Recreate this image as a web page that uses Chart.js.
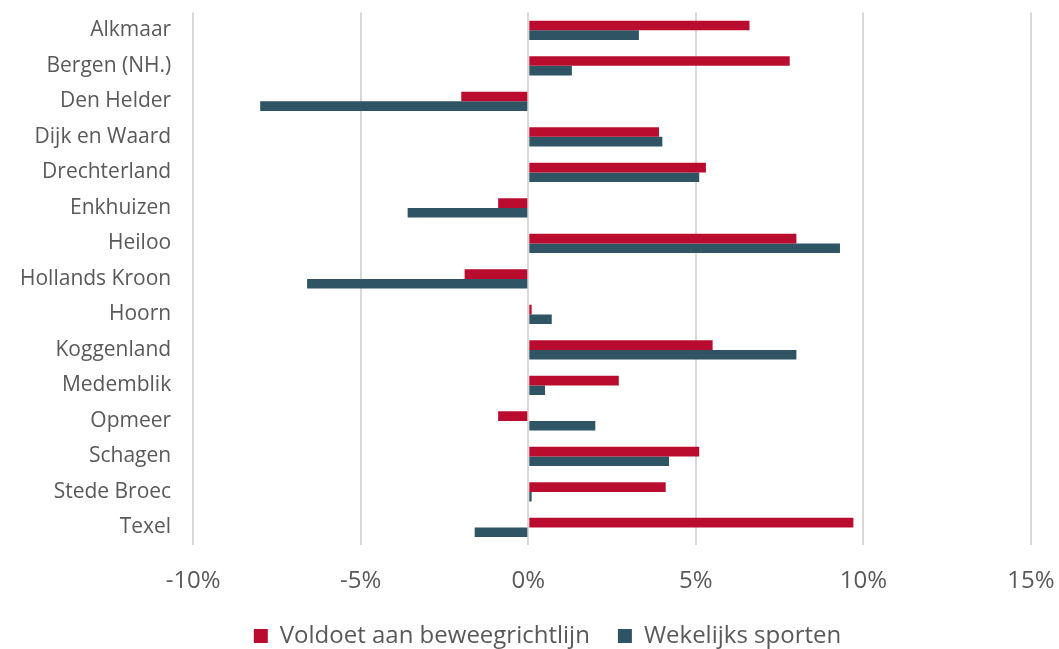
<!DOCTYPE html>
<html>
<head>
<meta charset="utf-8">
<script src="https://cdn.jsdelivr.net/npm/chart.js@4"></script>
<style>
  html, body { margin: 0; padding: 0; background: #fff; overflow: hidden; }
  #wrap { width: 1059px; height: 649px; }
</style>
</head>
<body>
<div id="wrap"><canvas id="chart"></canvas></div>
<script>
const gemeenten = ['Alkmaar', 'Bergen (NH.)', 'Den Helder', 'Dijk en Waard', 'Drechterland', 'Enkhuizen', 'Heiloo',
  'Hollands Kroon', 'Hoorn', 'Koggenland', 'Medemblik', 'Opmeer', 'Schagen', 'Stede Broec', 'Texel'];
const beweegrichtlijn = [6.6, 7.8, -2.0, 3.9, 5.3, -0.9, 8.0, -1.9, 0.1, 5.5, 2.7, -0.9, 5.1, 4.1, 9.7];
const sporten = [3.3, 1.3, -8.0, 4.0, 5.1, -3.6, 9.3, -6.6, 0.7, 8.0, 0.5, 2.0, 4.2, 0.1, -1.6];
const xMin = -10;
const xMax = 15;
const xStep = 5;

Chart.defaults.font.family = "'Open Sans', sans-serif";
Chart.defaults.color = '#595959';

// legend in the original sits a bit right of the canvas centre
const shiftLegend = {
  id: 'shiftLegend',
  afterLayout(chart) {
    chart.legend.left += 22;
    chart.legend.right += 22;
  }
};

new Chart(document.getElementById('chart').getContext('2d'), {
  type: 'bar',
  data: {
    labels: gemeenten,
    datasets: [
      {
        label: 'Voldoet aan beweegrichtlijn',
        data: beweegrichtlijn,
        backgroundColor: '#BA0C2F',
        categoryPercentage: 0.54,
        barPercentage: 1.0
      },
      {
        label: 'Wekelijks sporten',
        data: sporten,
        backgroundColor: '#2F5565',
        categoryPercentage: 0.54,
        barPercentage: 1.0
      }
    ]
  },
  options: {
    indexAxis: 'y',
    responsive: true,
    maintainAspectRatio: false,
    animation: false,
    layout: { padding: { top: 12, left: 20, right: 28, bottom: 0 } },
    plugins: {
      legend: {
        position: 'bottom',
        maxHeight: 53,
        labels: {
          boxWidth: 14,
          boxHeight: 14,
          padding: 28,
          font: { size: 24 },
          color: '#595959'
        }
      },
      tooltip: { enabled: false }
    },
    scales: {
      x: {
        min: xMin,
        max: xMax,
        ticks: {
          stepSize: xStep,
          padding: 0,
          maxRotation: 0,
          font: { size: 24 },
          callback: v => v + '%'
        },
        grid: { color: '#d9d9d9', lineWidth: 2, drawTicks: true, tickLength: 22, tickColor: 'rgba(0,0,0,0)' },
        border: { display: false }
      },
      y: {
        ticks: { padding: 0, font: { size: 21 } },
        grid: { display: true, drawOnChartArea: false, drawTicks: true, tickLength: 22, tickColor: 'rgba(0,0,0,0)' },
        border: { display: false }
      }
    }
  },
  plugins: [shiftLegend]
});
</script>
</body>
</html>
